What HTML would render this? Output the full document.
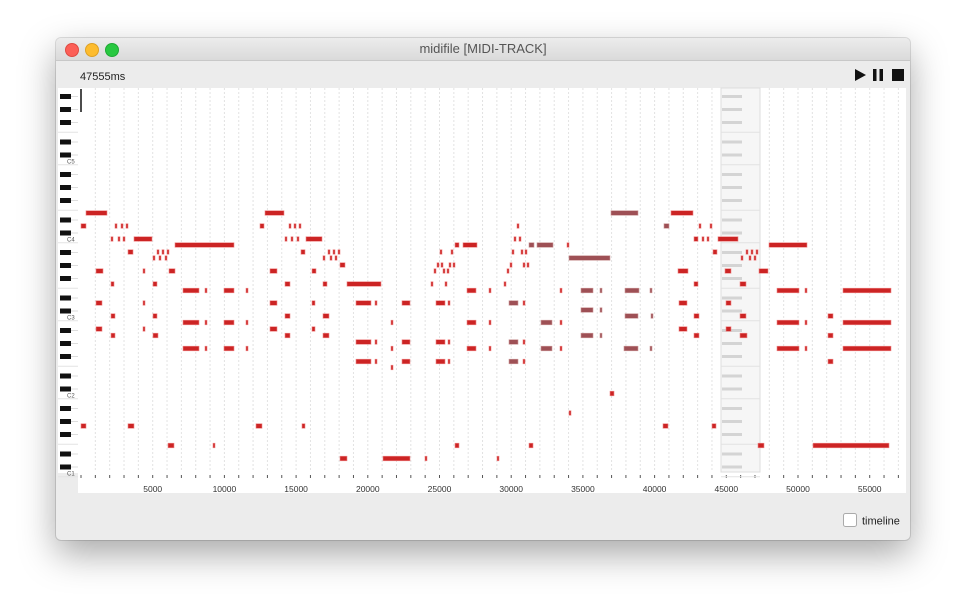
<!DOCTYPE html>
<html><head><meta charset="utf-8">
<style>
html,body{margin:0;padding:0;background:#fff;width:966px;height:614px;overflow:hidden;font-family:"Liberation Sans",sans-serif;}
#win{position:absolute;left:56px;top:38px;width:854px;height:502px;background:#ececec;border-radius:5px;box-shadow:0 14px 36px rgba(0,0,0,0.35),0 0 0 1px rgba(0,0,0,0.12);overflow:hidden;}
#tb{position:absolute;left:0;top:0;width:854px;height:22px;background:linear-gradient(#ececec,#dadada);border-bottom:1px solid #c8c8c8;text-align:center;font-size:13px;line-height:22px;color:#555;}
.dot{position:absolute;top:5px;width:12px;height:12px;border-radius:50%;}
svg{position:absolute;left:0;top:0;}
</style></head><body>
<div id="win">
<div id="tb">midifile [MIDI-TRACK]
<div class="dot" style="left:9px;background:#fc5f57;border:0.5px solid #de4a42"></div>
<div class="dot" style="left:29px;background:#fdbc2e;border:0.5px solid #dea123"></div>
<div class="dot" style="left:49px;background:#28c840;border:0.5px solid #1fa934"></div>
</div>
</div>
<svg id="s" width="966" height="614" xmlns="http://www.w3.org/2000/svg" font-family="Liberation Sans, sans-serif"></svg>
<script>
var s=document.getElementById('s');var h='';
h+='<text x="80" y="80" font-size="11" fill="#222">47555ms</text>';
h+='<polygon points="855,69 866,75 855,81" fill="#111"/><rect x="873" y="69" width="3.5" height="12" fill="#111"/><rect x="879.5" y="69" width="3.5" height="12" fill="#111"/><rect x="892" y="69" width="12" height="12" fill="#111"/>';
h+='<rect x="78" y="88" width="828" height="405" fill="#fff"/>';
h+='<rect x="58" y="88" width="20" height="385" fill="#fff"/>';
function Y(m){return 161.5+(72-m)*6.5;}
for(var t=0;t<=57;t++){var x=81+t*14.34;if(t>0)h+='<line x1="'+x+'" y1="88" x2="'+x+'" y2="472" stroke="#e2e2e2" stroke-width="1" stroke-dasharray="2,2"/>';h+='<line x1="'+x+'" y1="475" x2="'+x+'" y2="478" stroke="#555" stroke-width="1"/>';}
for(var k=1;k<=11;k++){var x=81+k*5*14.34;h+='<text x="'+x+'" y="492" font-size="8.5" fill="#333" text-anchor="middle">'+(k*5000)+'</text>';}
for(var m=24;m<=82;m++){var n=m%12;var y=Y(m);
 if([1,3,6,8,10].indexOf(n)>=0){h+='<rect x="60" y="'+(y-2.5)+'" width="11" height="5" fill="#111"/>';h+='<line x1="71" y1="'+y+'" x2="78" y2="'+y+'" stroke="#ddd"/>';}
 if((n==0||n==5)&&y>92){h+='<line x1="58" y1="'+(y+3.25)+'" x2="78" y2="'+(y+3.25)+'" stroke="#e4e4e4"/>';}
 if(n==0&&y>95){h+='<text x="67" y="'+(y+2)+'" font-size="6" fill="#555">C'+(m/12-1)+'</text>';}
}
h+='<rect x="721" y="88" width="39" height="384" fill="#f6f6f6" stroke="#ddd"/>';
for(var m=24;m<=82;m++){var n=m%12;var y=Y(m);
 if([1,3,6,8,10].indexOf(n)>=0)h+='<rect x="722" y="'+(y-1.5)+'" width="20" height="3" fill="#d4d4d4"/>';
 if((n==0||n==5)&&y>92)h+='<line x1="721" y1="'+(y+3.25)+'" x2="760" y2="'+(y+3.25)+'" stroke="#e2e2e2"/>';}
h+='<line x1="81" y1="89" x2="81" y2="112" stroke="#111" stroke-width="1.5"/>';
var R='#cc2424',B='#9e5055';
var N=[
[213,[[86,107],[265,284],[671,693]]],[213,[[611,638]],B],
[226,[[81,86],[115],[121],[126],[260,264],[289],[294],[299],[517],[699],[710]]],[226,[[664,669]],B],
[239,[[111],[118],[123],[134,152],[285],[291],[297],[306,322],[514],[519],[694,698],[702],[707],[718,738]]],
[245,[[175,234],[455,459],[463,477],[567],[769,807]]],[245,[[529,534],[537,553]],B],
[252,[[128,133],[157],[162],[167],[301,305],[328],[333],[338],[440],[451],[512],[521],[525],[713,717],[746],[751],[756]]],
[258,[[153],[159],[165],[323],[330],[335],[741,743],[749],[754]]],[258,[[569,610]],B],
[265,[[340,345],[437],[441],[449],[453],[510],[523],[527]]],
[271,[[96,103],[143],[169,175],[270,277],[312,316],[434],[443],[447],[507],[678,688],[725,731],[759,768]]],
[284,[[111,114],[153,157],[285,290],[323,327],[347,381],[431],[445],[504],[694,698],[740,746]]],
[290.5,[[183,199],[205],[224,234],[246],[467,476],[489],[560],[777,799],[805],[843,891]]],[290.5,[[581,593],[600],[625,639],[650]],B],
[303,[[96,102],[143],[270,277],[312,315],[356,371],[375],[402,410],[436,445],[448],[523],[679,687],[726,731]]],[303,[[509,518]],B],
[310,[[581,593],[600]],B],
[316,[[111,115],[153,157],[285,290],[323,329],[694,699],[740,746],[828,833]]],[316,[[625,638],[651]],B],
[322.5,[[183,199],[205],[224,234],[246],[391],[467,476],[489],[560],[777,799],[805],[843,891]]],[322.5,[[541,552]],B],
[329,[[96,102],[143],[270,277],[312,315],[679,687],[726,731]]],
[335.5,[[111,115],[153,158],[285,290],[323,329],[694,699],[740,747],[828,833]]],[335.5,[[581,593],[600]],B],
[342,[[356,371],[375],[402,410],[436,445],[448],[523]]],[342,[[509,518]],B],
[348.5,[[183,199],[205],[224,234],[246],[391],[467,476],[489],[560],[777,799],[805],[843,891]]],[348.5,[[541,552],[624,638],[650]],B],
[361.5,[[356,371],[375],[402,410],[436,445],[448],[523],[828,833]]],[361.5,[[509,518]],B],
[367.5,[[391]]],
[393.5,[[610,614]]],[413,[[569,571]]],
[426,[[81,86],[128,134],[256,262],[302,305],[663,668],[712,716]]],
[445.5,[[168,174],[213],[455,459],[529,533],[758,764],[813,889]]],
[458.5,[[340,347],[383,410],[425,427],[497,499]]]
];
N.forEach(function(r){var y=r[0],c=r[2]||R;r[1].forEach(function(a){var x1=a[0],x2=a.length>1?a[1]:a[0]+2;h+='<rect x="'+x1+'" y="'+(y-2.3)+'" width="'+(x2-x1)+'" height="4.6" fill="'+c+'" stroke="'+(c==R?'#e88':'#c99')+'" stroke-width="0.6"/>';});});
h+='<rect x="843.5" y="513.5" width="13" height="13" rx="2" fill="#fff" stroke="#aaa"/><text x="862" y="524.5" font-size="11" fill="#222">timeline</text>';
s.innerHTML=h;
</script>
</body></html>
